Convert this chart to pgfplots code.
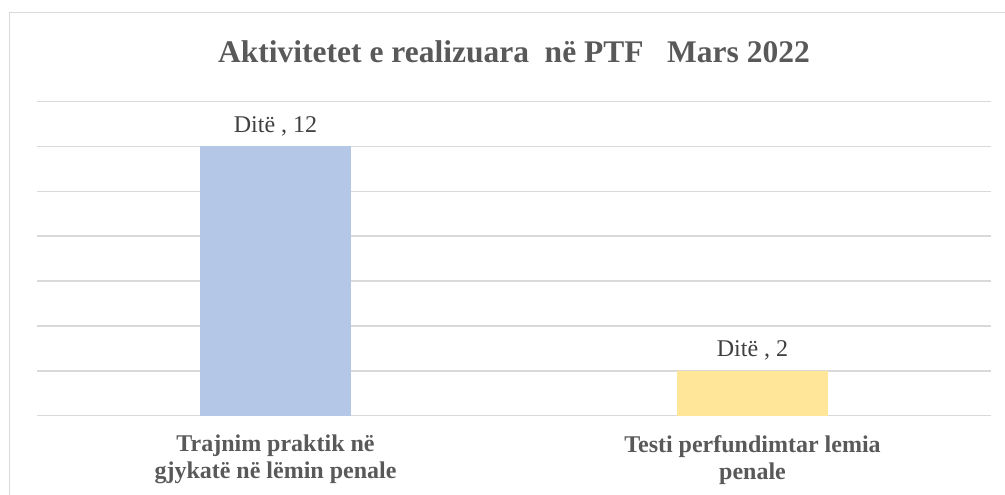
\documentclass[border=0pt]{standalone}
\usepackage{pgfplots}
\pgfplotsset{compat=1.18}
\usepackage{fontspec}
\setmainfont{Liberation Serif}

\definecolor{gridc}{HTML}{D9D9D9}
\definecolor{titlec}{HTML}{595959}
\definecolor{labc}{HTML}{404040}
\definecolor{barblue}{HTML}{B4C7E7}
\definecolor{baryellow}{HTML}{FFE699}

\begin{document}
\begin{tikzpicture}[x=1pt,y=1pt]
\path[use as bounding box] (0,0) rectangle (1005,495);
% chart frame (only left and top edges are in view)
\draw[gridc, line width=1.5pt] (9.7,-5) -- (9.7,482.3) -- (1012,482.3);
\node[font=\fontsize{31.5}{34}\selectfont\bfseries, text=titlec] at (514,443)
  {Aktivitetet e realizuara \ në PTF \ \ Mars 2022};

\begin{axis}[
  at={(37pt,79.3pt)}, anchor=south west,
  scale only axis,
  width=954pt, height=314.2pt,
  xmin=-0.5, xmax=1.5,
  ymin=0, ymax=14,
  ytick={0,2,...,14}, yticklabels={},
  ymajorgrids,
  grid style={gridc, line width=1.5pt},
  axis line style={draw=none},
  major tick length=0,
  clip=false,
  /pgf/number format/assume math mode=true,
  xtick={0,1},
  xticklabels={{Trajnim praktik në\\gjykatë në lëmin penale},{Testi perfundimtar lemia\\penale}},
  xticklabel style={font=\fontsize{24}{27}\selectfont\bfseries, text=titlec,
    align=center, yshift=-16pt},
  ybar, bar width=151pt, bar shift=0pt,
  nodes near coords={Ditë , \pgfmathprintnumber{\pgfplotspointmeta}},
  every node near coord/.append style={font=\fontsize{24}{28}\selectfont,
    text=labc, yshift=7pt},
]
\addplot[draw=none, fill=barblue] coordinates {(0,12)};
\addplot[draw=none, fill=baryellow] coordinates {(1,2)};
\end{axis}
\end{tikzpicture}
\end{document}
